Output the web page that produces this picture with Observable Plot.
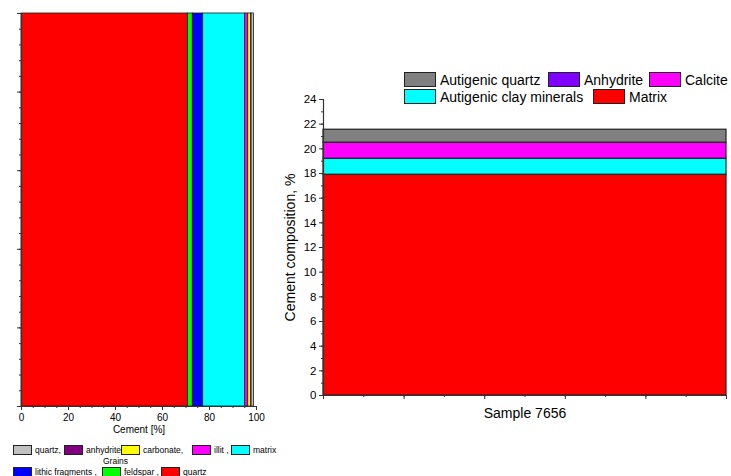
<!DOCTYPE html>
<html><head><meta charset="utf-8">
<script src="https://cdn.jsdelivr.net/npm/d3@7"></script>
<script src="https://cdn.jsdelivr.net/npm/@observablehq/plot@0.6"></script>
<style>
body{margin:0;background:#fff;font-family:"Liberation Sans",Arial,sans-serif;}
#root{position:relative;width:731px;height:476px;overflow:hidden;background:#fff;}
.plot{position:absolute;top:0;}
.item{position:absolute;display:flex;align-items:center;white-space:nowrap;color:#000;}
.sw{display:inline-block;box-sizing:border-box;border:1px solid #222;}
</style></head><body><div id="root"></div>
<script>
// ---- Left panel data (stacked bar, %) ----
const leftCategories = ["quartz", "feldspar", "lithic fragments", "matrix", "illit", "carbonate", "anhydrite", "quartz (cement)"];
const leftValues = [70.8, 2.1, 4.4, 17.9, 1.3, 1.3, 0.1, 1.0];
const leftColors = ["#FF0000", "#00FF00", "#0000FF", "#00FFFF", "#FF00FF", "#FFFF00", "#800080", "#C0C0C0"];
const leftXTicks = [0, 20, 40, 60, 80, 100];

// ---- Right panel data (Sample 7656, cement composition %) ----
const rightCategories = ["Matrix", "Autigenic clay minerals", "Calcite", "Anhydrite", "Autigenic quartz"];
const rightValues = [17.9, 1.3, 1.3, 0, 1.05];
const rightColors = ["#FF0000", "#00FFFF", "#FF00FF", "#7F00FF", "#808080"];
const rightYTicks = [0, 2, 4, 6, 8, 10, 12, 14, 16, 18, 20, 22, 24];
const sampleLabel = "Sample 7656";

const leftData = leftCategories.map((c, i) => ({cat: c, value: leftValues[i], color: leftColors[i]}));
const rightData = rightCategories.map((c, i) => ({cat: c, value: rightValues[i], color: rightColors[i]}));

const FONT = "'Liberation Sans', Arial, sans-serif";
const root = document.getElementById("root");

const left = Plot.plot({
  width: 270, height: 440,
  marginLeft: 21, marginRight: 14, marginTop: 13, marginBottom: 34,
  x: {domain: [0, 100]},
  y: {domain: [0, 5]},
  style: {fontFamily: FONT, fontSize: "10px", color: "#000", background: "transparent"},
  marks: [
    Plot.rectX(leftData, {x: "value", fill: d => d.color, stroke: "#1a1a1a", strokeWidth: 0.8}),
    Plot.axisX({ticks: leftXTicks, tickSize: 4, tickPadding: 3, label: null, fontSize: 10, stroke: "#333"}),
    Plot.axisX({ticks: d3.range(0, 101, 5), tickSize: 2, tickFormat: () => "", label: null, stroke: "#333"}),
    Plot.axisY({ticks: d3.range(0, 5.01, 1), tickSize: 4, tickFormat: () => "", label: null, stroke: "#333"}),
    Plot.axisY({ticks: d3.range(0, 5.01, 0.2), tickSize: 2, tickFormat: () => "", label: null, stroke: "#333"}),
    Plot.ruleX([0], {stroke: "#333", strokeWidth: 1.2}),
    Plot.ruleY([0], {stroke: "#333", strokeWidth: 1.2}),
    Plot.text(["Cement [%]"], {frameAnchor: "bottom", dy: 26, fontSize: 10, fill: "#000"})
  ]
});
left.classList.add("plot");
left.style.left = "0px";
root.appendChild(left);

const right = Plot.plot({
  width: 481, height: 440,
  marginLeft: 73, marginRight: 5, marginTop: 99, marginBottom: 45,
  x: {domain: [0, 5]},
  y: {domain: [0, 24]},
  style: {fontFamily: FONT, fontSize: "11.5px", color: "#000", background: "transparent"},
  marks: [
    Plot.rectY(rightData, {y: "value", fill: d => d.color, stroke: "#222", strokeWidth: 1.2}),
    Plot.axisY({ticks: rightYTicks, tickSize: 4, tickPadding: 3, label: null, fontSize: 11.5, stroke: "#333"}),
    Plot.axisY({ticks: d3.range(0, 24.1, 1), tickSize: 2, tickFormat: () => "", label: null, stroke: "#333"}),
    Plot.axisX({ticks: d3.range(0, 5.1, 1), tickSize: 4, tickFormat: () => "", label: null, stroke: "#333"}),
    Plot.axisX({ticks: d3.range(0, 5.1, 0.5), tickSize: 2, tickFormat: () => "", label: null, stroke: "#333"}),
    Plot.ruleX([0], {stroke: "#333", strokeWidth: 1.2}),
    Plot.ruleY([0], {stroke: "#333", strokeWidth: 1.2}),
    Plot.text([sampleLabel], {frameAnchor: "bottom", dy: 22, fontSize: 14, fill: "#000"}),
    Plot.text(["Cement composition, %"], {frameAnchor: "left", textAnchor: "middle", dx: -33, rotate: -90, fontSize: 14, fill: "#000"})
  ]
});
right.classList.add("plot");
right.style.left = "250px";
root.appendChild(right);

// ---- Legends ----
function item(x, y, w, h, color, text, fontSize, gap) {
  const d = document.createElement("div");
  d.className = "item";
  d.style.left = x + "px";
  d.style.top = y + "px";
  d.style.fontSize = fontSize + "px";
  d.style.height = h + "px";
  const s = document.createElement("span");
  s.className = "sw";
  s.style.width = w + "px";
  s.style.height = h + "px";
  s.style.background = color;
  const t = document.createElement("span");
  t.textContent = text;
  t.style.marginLeft = gap + "px";
  d.appendChild(s); d.appendChild(t);
  root.appendChild(d);
}
// right legend
const rl = {"Autigenic quartz": [404, 72], "Anhydrite": [548, 72], "Calcite": [649, 72],
            "Autigenic clay minerals": [404, 89], "Matrix": [593, 89]};
rightCategories.forEach((c, i) => {
  const p = rl[c];
  item(p[0], p[1], 32, 15, rightColors[i], c, 14, 4);
});
// left legend
const ll = [
  ["quartz (cement)", "quartz,", 13, 445],
  ["anhydrite", "anhydrite,", 64, 445],
  ["carbonate", "carbonate,", 121, 445],
  ["illit", "illit ,", 192, 445],
  ["matrix", "matrix", 231, 445],
  ["lithic fragments", "lithic fragments ,", 13, 467],
  ["feldspar", "feldspar ,", 102, 467],
  ["quartz", "quartz", 161, 467]
];
ll.forEach(([key, label, x, y]) => {
  const i = leftCategories.indexOf(key);
  item(x, y, 19, 10, leftColors[i], label, 8.5, 3);
});
const g = document.createElement("div");
g.className = "item";
g.style.left = "103px"; g.style.top = "456px"; g.style.fontSize = "8.5px";
g.textContent = "Grains";
root.appendChild(g);
</script></body></html>
